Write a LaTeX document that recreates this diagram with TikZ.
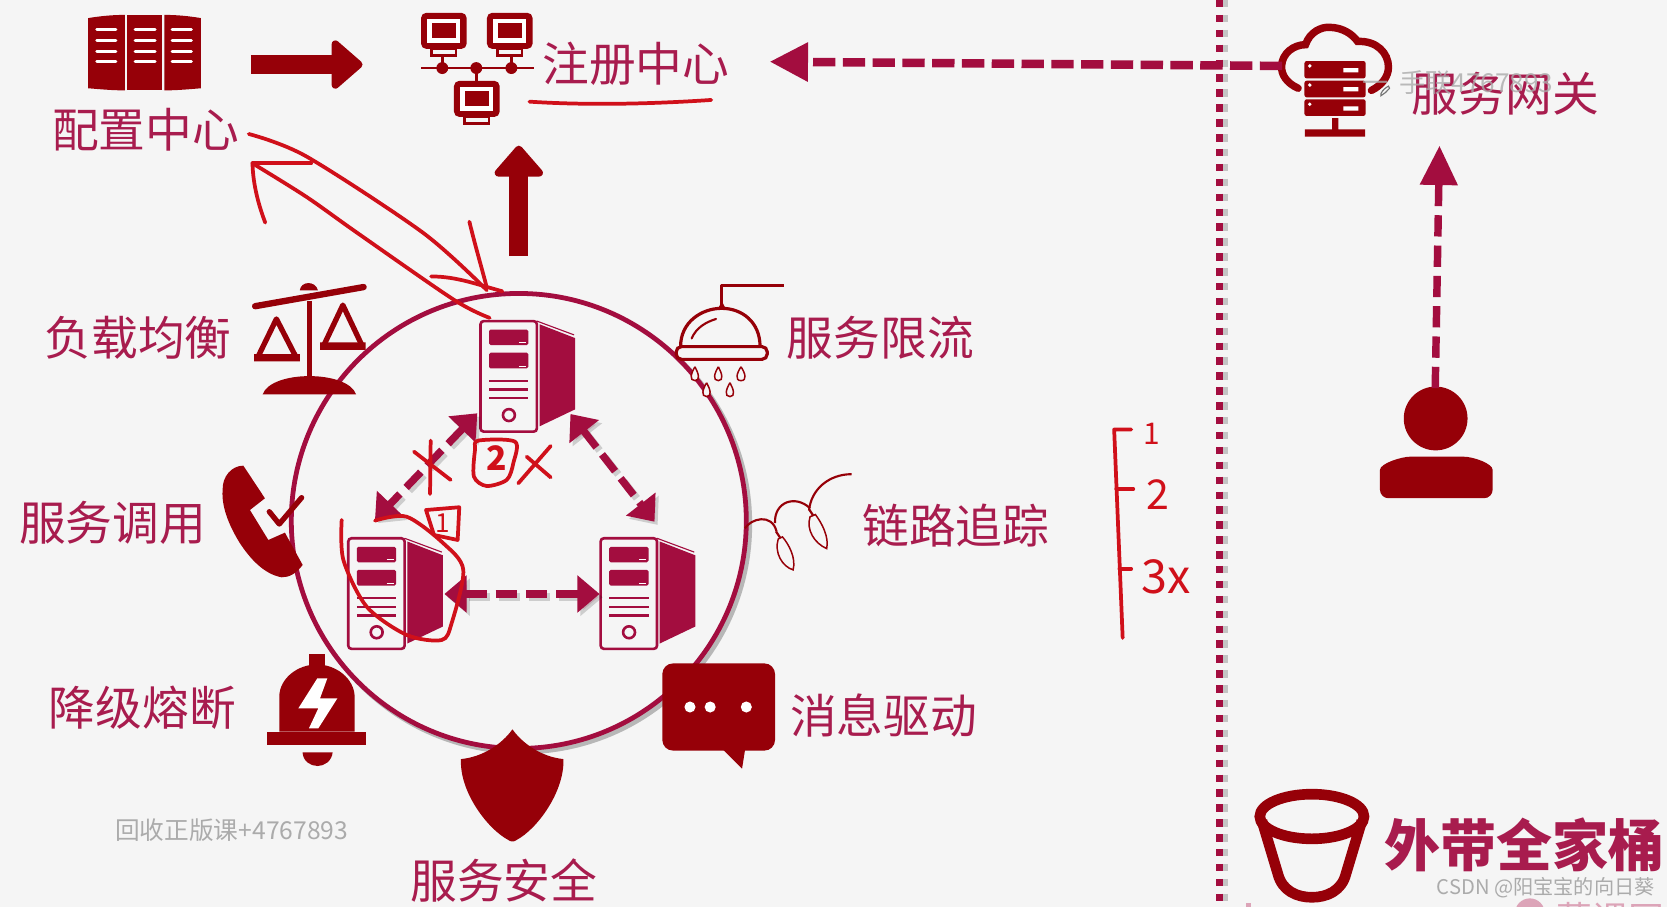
\documentclass[tikz,border=0pt]{standalone}
\usepackage{fontspec}
\setmainfont{Noto Sans CJK SC}
\usetikzlibrary{arrows.meta}
\definecolor{pagebg}{HTML}{F5F5F5}
\definecolor{iconred}{HTML}{960008}
\definecolor{crimson}{HTML}{A30D3F}
\definecolor{labelred}{HTML}{A81C4E}
\definecolor{inkred}{HTML}{D0101A}
\begin{document}
\begin{tikzpicture}[x=0.01cm, y=-0.01cm,
  lbl/.style={text=labelred, inner sep=0pt, font=\fontsize{12.5}{15}\selectfont},
  ink/.style={draw=inkred, line width=1pt, line cap=round, line join=round},
  inknum/.style={text=inkred, inner sep=0pt, font=\fontsize{11}{13}\selectfont},
  wm/.style={text=black!33, inner sep=0pt, font=\fontsize{6.6}{8}\selectfont},
  fatarrow/.style={draw=iconred, line width=0.18cm, -{Triangle[length=0.31cm, width=0.52cm, round, line width=2pt, fill=iconred]}},
  dasharrow/.style={draw=crimson, line width=0.07cm, dash pattern=on 0.2cm off 0.085cm},
  dashshadow/.style={dasharrow, draw=black, opacity=0.16},
  both/.style={{Triangle[length=0.21cm, width=0.34cm, fill=crimson]}-{Triangle[length=0.21cm, width=0.34cm, fill=crimson]}},
  monitor/.pic={
    \fill[iconred, rounded corners=0.05cm] (0,0) rectangle (43,34);
    \fill[white] (6,6) rectangle (37,28);
    \fill[iconred] (10,10) rectangle (33,24);
    \draw[iconred, line width=0.7pt, fill=pagebg] (10,34) rectangle (33,40);
  },
  server/.pic={
    \draw[crimson, line width=0.7pt, fill=pagebg, rounded corners=0.03cm] (0,0) rectangle (53,104);
    \fill[crimson] (55.5,3) -- (89,16) -- (89,83) -- (55.5,99) -- cycle;
    \draw[crimson, line width=0.3pt] (53,0) -- (88,13);
    \fill[crimson, rounded corners=0.015cm] (8,8) rectangle (45,22.6);
    \fill[crimson, rounded corners=0.015cm] (8,29.7) rectangle (45,44.5);
    \draw[white, line width=0.4pt] (36,20) -- (43,20) (36,42.5) -- (43,42.5);
    \draw[crimson, line width=0.6pt] (8,56) -- (45,56) (8,64.3) -- (45,64.3) (8,72.7) -- (45,72.7);
    \draw[crimson, line width=0.7pt] (26.7,88.4) circle[radius=5.6];
  },
]
\fill[pagebg] (0,0) rectangle (1568,853);
\useasboundingbox (0,0) rectangle (1568,853);

\draw[black, opacity=0.2, line width=0.07cm, dash pattern=on 0.07cm off 0.07cm] (1152,0) -- (1152,853);
\draw[crimson, line width=0.07cm, dash pattern=on 0.07cm off 0.07cm] (1147,0) -- (1147,853);
\draw[black, opacity=0.25, line width=0.05cm] (491,493) circle[radius=214];
\draw[pagebg, fill=pagebg] (488,490) circle[radius=213];
\draw[crimson, line width=0.045cm] (488,490) circle[radius=214];

\node[lbl] (cfgtxt) at (137,122) {配置中心};
\node[lbl] (regtxt) at (598,60) {注册中心};
\node[lbl] (gwtxt) at (1416,88) {服务网关};
\node[lbl] (lbtxt) at (130,318) {负载均衡};
\node[lbl] (limittxt) at (828,318) {服务限流};
\node[lbl] (calltxt) at (106,492) {服务调用};
\node[lbl] (tracetxt) at (899,494) {链路追踪};
\node[lbl] (fusetxt) at (134,666) {降级熔断};
\node[lbl] (msgtxt) at (831,673) {消息驱动};
\node[lbl] (sectxt) at (474,828) {服务安全};
\node[lbl, font=\fontsize{15}{18}\selectfont\bfseries] (bucktxt) at (1434,795) {外带全家桶};
\node[wm] (wmleft) at (218,781) {回收正版课+4767893};
\node[wm, font=\fontsize{5.4}{7}\selectfont] (csdn) at (1454,835) {CSDN @阳宝宝的向日葵};
\node[text=labelred!40, inner sep=0pt, font=\fontsize{9.6}{11}\selectfont] (logotxt) at (1515,864) {慕课网};
\fill[labelred!40] (1439,859) circle[radius=14];
\fill[labelred!40] (1172,849) rectangle (1177,853);

\fill[iconred] (83,17) .. controls (95,15) and (106,14) .. (117.5,14) -- (117.5,85) .. controls (106,85) and (95,84) .. (83,83) -- cycle;
\fill[iconred] (119.5,14) -- (152.5,14) -- (152.5,85) -- (119.5,85) -- cycle;
\fill[iconred] (154.5,14) .. controls (166,14) and (177,15) .. (189,17) -- (189,83) .. controls (177,84) and (166,85) .. (154.5,85) -- cycle;
\draw[white, line width=0.8pt, line cap=round]
  (91,28) -- (109,28) (91,38) -- (109,38) (91,48) -- (109,48) (91,58) -- (109,58)
  (127,28) -- (146,28) (127,38) -- (146,38) (127,48) -- (146,48) (127,58) -- (146,58)
  (162,28) -- (180,28) (162,38) -- (180,38) (162,48) -- (180,48) (162,58) -- (180,58);

\draw[iconred, line width=0.7pt] (396,64) -- (502,64) (416,50) -- (416,64) (481,50) -- (481,64) (448,64) -- (448,76);
\fill[iconred] (416,64) circle[radius=5.6] (448,64) circle[radius=5.6] (481,64) circle[radius=5.6];
\pic at (396,12) {monitor};
\pic at (458,12) {monitor};
\pic at (427,76) {monitor};

\coordinate (cfgout) at (236,60.7);
\coordinate (regin) at (341,60.7);
\draw[fatarrow] (cfgout) -- (regin);
\coordinate (ringtop) at (488,241);
\coordinate (regunder) at (488,137);
\draw[fatarrow] (ringtop) -- (regunder);

\draw[iconred, line width=0.07cm, line cap=round] (1221,83) .. controls (1210,78) and (1205,70) .. (1205.5,62) .. controls (1206,50) and (1217,42) .. (1228,42) .. controls (1232,30) and (1243,25) .. (1251,25.7) .. controls (1263,26) and (1272,32) .. (1277,39) .. controls (1295,38) and (1306,50) .. (1306,63) .. controls (1306,72) and (1300,80) .. (1290,85);
\fill[iconred, rounded corners=0.02cm] (1227,57.4) rectangle (1284.5,73.7);
\fill[iconred, rounded corners=0.02cm] (1227,75.9) rectangle (1284.5,91.5);
\fill[iconred, rounded corners=0.02cm] (1227,93.4) rectangle (1284.5,109);
\fill[white] (1232,62) circle[radius=1.8] (1232,80) circle[radius=1.8] (1232,98) circle[radius=1.8];
\fill[white] (1263.5,64) rectangle (1277.6,68) (1263.5,82) rectangle (1277.6,86) (1263.5,100) rectangle (1277.6,104);
\fill[iconred] (1253,111) rectangle (1259,122) (1227.4,121.6) rectangle (1284,128.5);
\node[wm, font=\fontsize{7}{8}\selectfont, text opacity=0.8, anchor=west] (wmright) at (1281,78) {一\hspace{0.4em}手联4767893};
\draw[black!55, line width=0.3pt, fill=pagebg] (1299,88) .. controls (1300,85) and (1304,82) .. (1306,81) -- (1307,83) .. controls (1305,86) and (1302,88) .. (1299,90) -- cycle;

\coordinate (gwout) at (1206,62);
\coordinate (regright) at (724,58);
\draw[dasharrow, draw=crimson, line width=0.08cm, dash pattern=on 0.21cm off 0.07cm, -{Triangle[length=0.36cm, width=0.35cm, fill=crimson]}] (gwout) -- (regright);
\fill[iconred] (1350.4,393.6) circle[radius=30];
\fill[iconred, rounded corners=0.08cm] (1298,468.6) -- (1298,450) .. controls (1298,436) and (1318,429.5) .. (1335,429.5) -- (1368,429.5) .. controls (1386,429.5) and (1404,436) .. (1404,450) -- (1404,468.6) -- cycle;
\coordinate (userout) at (1350,365);
\coordinate (gwunder) at (1354,137);
\draw[dasharrow, -{Triangle[length=0.37cm, width=0.34cm, fill=crimson]}] (userout) -- (gwunder);

\draw[iconred, line width=0.06cm, line cap=round] (240,288) -- (342,270);
\fill[iconred] (282,273) .. controls (283,264) and (297,264) .. (299,273) -- cycle;
\draw[iconred, line width=0.05cm] (291,283) -- (291,357);
\draw[iconred, line width=0.05cm, line join=round, fill=pagebg] (260,300) -- (279,337) -- (242,337) -- cycle;
\draw[iconred, line width=0.05cm, line join=round, fill=pagebg] (322.5,287) -- (341,326) -- (304,326) -- cycle;
\fill[iconred] (239,333) rectangle (282,340) (301,322) rectangle (344,329);
\fill[iconred] (247,371) .. controls (255,348) and (327,348) .. (335,371) -- cycle;

\draw[iconred, line width=0.03cm, line join=round] (737.4,268.7) -- (678.8,268.7) -- (678.8,287);
\fill[iconred] (674,292) .. controls (677,288) and (678,285) .. (678.8,283) .. controls (680,285) and (681,288) .. (684,292) -- cycle;
\draw[iconred, line width=0.03cm, fill=pagebg] (640.2,326) .. controls (640,303) and (660,290) .. (678.8,290) .. controls (698,290) and (715,303) .. (714.9,326);
\draw[iconred, line width=0.03cm, fill=pagebg, rounded corners=0.05cm] (636,326) rectangle (721.7,338);
\draw[iconred, line width=0.02cm, line cap=round] (650.6,318.3) .. controls (655,308) and (664,303) .. (673.5,300);
\draw[iconred, line width=0.4pt, fill=pagebg]
  (653.7,345) .. controls (650,351) and (648,358) .. (653.7,358) .. controls (659,358) and (657,351) .. (653.7,345)
  (675.7,345) .. controls (672,351) and (670,358) .. (675.7,358) .. controls (681,358) and (679,351) .. (675.7,345)
  (697,345) .. controls (693,351) and (691,358) .. (697,358) .. controls (703,358) and (701,351) .. (697,345)
  (664.7,360) .. controls (661,366) and (659,373) .. (664.7,373) .. controls (670,373) and (668,366) .. (664.7,360)
  (686.6,360) .. controls (683,366) and (681,373) .. (686.6,373) .. controls (692,373) and (690,366) .. (686.6,360);

\draw[iconred, line width=0.02cm] (700.7,497) .. controls (706,488) and (726,482) .. (730.5,500);
\draw[iconred, line width=0.02cm] (729,492) .. controls (728,472) and (748,465) .. (761.9,478);
\draw[iconred, line width=0.02cm] (761,480) .. controls (763,460) and (780,446) .. (801,446);
\draw[iconred, line width=0.4pt, fill=pagebg] (732,507) .. controls (728,520) and (736,533) .. (746,536) .. controls (749,525) and (742,512) .. (736,505) -- cycle;
\draw[iconred, line width=0.4pt, fill=pagebg] (762,486) .. controls (758,498) and (766,511) .. (777.6,516) .. controls (780,505) and (773,492) .. (767,484) -- cycle;
\draw[iconred, line width=0.6pt] (730,500) -- (734,506) (761,479) -- (765,485);

\fill[iconred] (228.9,438) -- (249.2,468.7) -- (235.1,479.7) -- (252.4,507.9) -- (268,501) -- (284.7,531.4)
  .. controls (278,540) and (272,543) .. (264.9,543) .. controls (248,540) and (235,525) .. (225.7,511) .. controls (217,497) and (208,478) .. (209.4,461) .. controls (209,448) and (218,438) .. (228.9,438) -- cycle;
\draw[iconred, line width=0.05cm, line cap=round, line join=round] (253.3,481.3) -- (262.7,492.9) -- (283.7,468.1);

\fill[iconred] (290.9,615.2) rectangle (305.3,627);
\fill[iconred] (262.7,688.2) -- (262.7,655) .. controls (263,638) and (280,625) .. (298,625) .. controls (316,625) and (333,638) .. (333.6,655) -- (333.6,688.2) -- cycle;
\fill[iconred] (251.4,688.2) rectangle (344.2,700.8);
\fill[iconred] (284.6,707.7) -- (312.9,707.7) .. controls (312,716) and (305,720.5) .. (298.7,720.5) .. controls (292,720.5) and (285,716) .. (284.6,707.7) -- cycle;
\fill[white] (298.5,638) -- (307.9,638) -- (301,656.9) -- (317.3,656.9) -- (299.4,685.1) -- (290.6,685.1) -- (299.4,666.3) -- (280.6,666.3) -- cycle;

\fill[iconred] (482,686) .. controls (492,700) and (510,712) .. (530,714) .. controls (531,745) and (505,780) .. (486,790) .. controls (484,792) and (480,792) .. (478,790) .. controls (459,780) and (432,745) .. (433.6,714) .. controls (454,712) and (472,700) .. (482,686) -- cycle;

\fill[iconred, rounded corners=0.1cm] (623,624) rectangle (729,706);
\fill[iconred] (679,704) -- (698,723) -- (701,704) -- cycle;
\fill[white] (649,665) circle[radius=5.2] (668,665) circle[radius=5.2] (702,665) circle[radius=5.2];

\draw[iconred, line width=0.1cm] (1234,768) ellipse[x radius=49, y radius=21];
\draw[iconred, line width=0.1cm, line join=round] (1187,772) -- (1202,822) .. controls (1206,838) and (1220,844) .. (1234,844) .. controls (1248,844) and (1262,838) .. (1266,822) -- (1281,772);

\pic at (452,302) {server};
\pic at (327.6,506.3) {server};
\pic at (565,506.3) {server};

\coordinate (srvtopl) at (449,388.7);
\coordinate (srvleftt) at (352.7,489);
\coordinate (srvtopr) at (536.6,389.4);
\coordinate (srvrightt) at (615.6,490.7);
\coordinate (srvleftr) at (418,558.7);
\coordinate (srvrightl) at (564,558.7);
\draw[dashshadow, both] ([xshift=0.03cm, yshift=-0.03cm]srvtopl) -- ([xshift=0.03cm, yshift=-0.03cm]srvleftt);
\draw[dashshadow, both] ([xshift=0.03cm, yshift=-0.03cm]srvtopr) -- ([xshift=0.03cm, yshift=-0.03cm]srvrightt);
\draw[dashshadow, both] ([xshift=0.03cm, yshift=-0.03cm]srvleftr) -- ([xshift=0.03cm, yshift=-0.03cm]srvrightl);
\draw[dasharrow, both] (srvtopl) -- (srvleftt);
\draw[dasharrow, both] (srvtopr) -- (srvrightt);
\draw[dasharrow, both] (srvleftr) -- (srvrightl);

\draw[ink] (498,95.6) .. controls (550,99) and (610,98) .. (669,94);
\draw[ink] plot[smooth] coordinates {(234,126) (288,147) (398,219) (458,273)};
\draw[ink] (405.5,260) .. controls (430,260) and (450,268) .. (472.6,274);
\draw[ink] (441.5,208.5) .. controls (448,235) and (454,255) .. (458,271);
\draw[ink] plot[smooth] coordinates {(460.6,299) (427,282) (336,219) (288,185) (237.5,153.6)};
\draw[ink] (237.5,153.6) -- (292.7,153.6);
\draw[ink] (237.5,153.6) .. controls (238,175) and (244,195) .. (249.5,209.4);

\draw[ink] (389.4,424.8) -- (423.9,451.4) (405.1,414.4) -- (404.5,464.6);
\draw[ink] plot[smooth cycle] coordinates {(449.9,414.4) (484.4,415.4) (482.8,435.8) (476.6,451.4) (457.7,457.1) (445.8,448.3) (446.8,423.2)};
\node[inknum, font=\fontsize{9}{11}\selectfont\bfseries] (twomark) at (467,431) {2};
\draw[ink] (487.5,454.6) -- (518,419.5) (495.4,429.5) -- (518,449);
\draw[ink] (400.7,479.7) -- (432,477.1) -- (430.5,507.9) -- (408.2,503.2) -- cycle;
\node[inknum, font=\fontsize{7}{9}\selectfont] (onemark) at (416,492) {1};
\draw[ink] plot[smooth] coordinates {(321.4,489) (323,526.7) (344.9,570.6) (382.5,597.2) (415.4,602) (424.8,586.2) (435.8,536.1) (417,511) (382.5,486) (352.7,489.7)};

\draw[ink] (1064,404) -- (1048,404) -- (1056,600);
\draw[ink] (1050,460) -- (1066,460);
\draw[ink] (1053,535) -- (1064,535);
\node[inknum, font=\fontsize{8}{10}\selectfont] (listone) at (1083,408) {1};
\node[inknum] (listtwo) at (1089,465) {2};
\node[inknum, font=\fontsize{12.5}{14}\selectfont] (listthree) at (1097,543) {3x};
\end{tikzpicture}
\end{document}
